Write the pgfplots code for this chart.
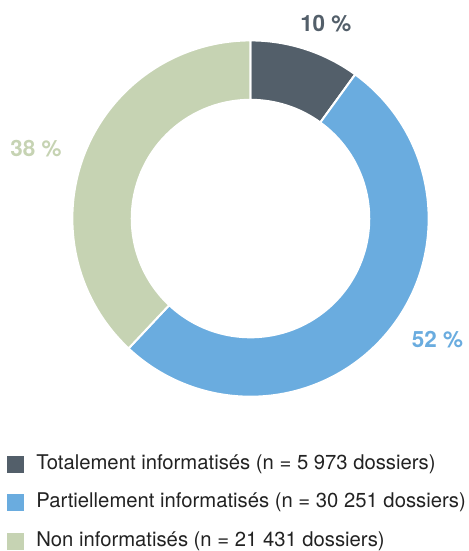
\documentclass[border=0pt]{standalone}
\usepackage{pgfplots}
\pgfplotsset{compat=1.18}
\usepackage{pgfplotstable}
\usepackage{fontspec}
\setmainfont{TeX Gyre Heros}

\definecolor{totcol}{HTML}{535F6A}
\definecolor{partcol}{HTML}{6AACDF}
\definecolor{noncol}{HTML}{C6D3B3}
\definecolor{legtext}{HTML}{222222}

% share of each group, in %
\pgfplotstableread{
part value n
tot  10 5973
part 52 30251
non  38 21431
}\parts

\begin{document}
\begin{tikzpicture}
\pgfplotstablegetelem{0}{value}\of\parts \pgfmathsetmacro\va{\pgfplotsretval}
\pgfplotstablegetelem{1}{value}\of\parts \pgfmathsetmacro\vb{\pgfplotsretval}
\pgfplotstablegetelem{2}{value}\of\parts \pgfmathsetmacro\vc{\pgfplotsretval}
\pgfmathsetmacro\tot{\va+\vb+\vc}
\pgfmathsetmacro\aA{90}
\pgfmathsetmacro\aB{\aA-360*(\va/\tot)}
\pgfmathsetmacro\aC{\aB-360*(\vb/\tot)}
\pgfmathsetmacro\aD{\aC-360*(\vc/\tot)}
\def\Ro{178.5pt}
\def\Ri{119pt}
\begin{axis}[
  x=1pt, y=1pt,
  xmin=-251, xmax=218, ymin=-332, ymax=219,
  scale only axis, hide axis, clip=false,
  legend cell align=left,
  legend style={at={(axis cs:-244,-236)}, anchor=north west,
    draw=none, fill=none, inner sep=0pt, outer sep=0pt,
    row sep=19.6pt, column sep=13pt,
    font=\fontsize{20.3}{24}\selectfont\color{legtext},
    nodes={inner sep=0pt, text height=15pt, text depth=4.3pt}},
  legend image code/.code={\fill[#1] (0pt,-8pt) rectangle (16pt,8pt);},
  ]
  % keep the whole frame in the picture
  \path (axis cs:-251,-332) rectangle (axis cs:218,219);

  \addlegendimage{totcol}
  \addlegendentry{Totalement informatisés (n = 5 973 dossiers)}
  \addlegendimage{partcol}
  \addlegendentry{Partiellement informatisés (n = 30 251 dossiers)}
  \addlegendimage{noncol}
  \addlegendentry{Non informatisés (n = 21 431 dossiers)}

  \filldraw[totcol, draw=white, line width=2pt, shift={(axis cs:0,0)}]
    (\aA:\Ro) arc[start angle=\aA, end angle=\aB, radius=\Ro]
    -- (\aB:\Ri) arc[start angle=\aB, end angle=\aA, radius=\Ri] -- cycle;
  \filldraw[partcol, draw=white, line width=2pt, shift={(axis cs:0,0)}]
    (\aB:\Ro) arc[start angle=\aB, end angle=\aC, radius=\Ro]
    -- (\aC:\Ri) arc[start angle=\aC, end angle=\aB, radius=\Ri] -- cycle;
  \filldraw[noncol, draw=white, line width=2pt, shift={(axis cs:0,0)}]
    (\aC:\Ro) arc[start angle=\aC, end angle=\aD, radius=\Ro]
    -- (\aD:\Ri) arc[start angle=\aD, end angle=\aC, radius=\Ri] -- cycle;

  \node[totcol, font=\fontsize{22.5}{24}\selectfont\bfseries] at (axis cs:75.5,195) {10 \%};
  \node[partcol, font=\fontsize{22.5}{24}\selectfont\bfseries] at (axis cs:187.3,-121.5) {52 \%};
  \node[noncol, font=\fontsize{22.5}{24}\selectfont\bfseries] at (axis cs:-215,70.3) {38 \%};
\end{axis}
\end{tikzpicture}
\end{document}
